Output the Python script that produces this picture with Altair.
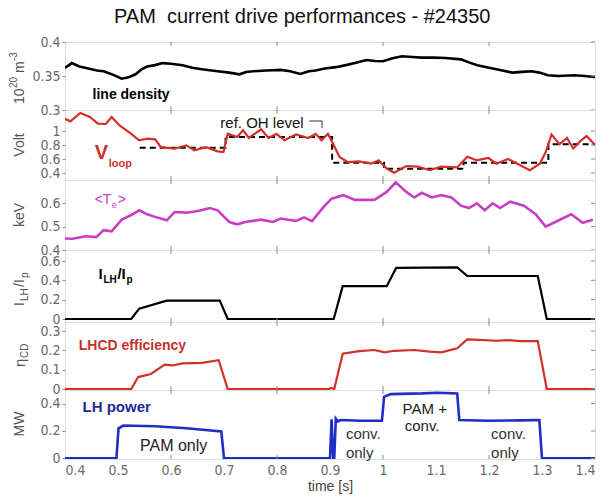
import altair as alt
import pandas as pd

TITLE = "PAM\u00a0 current drive performances - #24350"

# ---- line density (1e20 m^-3)
ne_t = [0.400, 0.413, 0.427, 0.444, 0.460, 0.473, 0.490, 0.507, 0.520, 0.533, 0.545, 0.555,
        0.570, 0.584, 0.600, 0.622, 0.640, 0.658, 0.688, 0.710, 0.729, 0.742, 0.755, 0.780,
        0.807, 0.825, 0.844, 0.860, 0.873, 0.890, 0.911, 0.930, 0.947, 0.969, 0.985, 1.000,
        1.018, 1.036, 1.055, 1.073, 1.095, 1.118, 1.147, 1.162, 1.178, 1.207, 1.225, 1.244,
        1.262, 1.280, 1.295, 1.311, 1.330, 1.362, 1.380, 1.400]
ne_v = [0.362, 0.369, 0.364, 0.361, 0.358, 0.357, 0.352, 0.346, 0.348, 0.3525, 0.360, 0.364,
        0.366, 0.369, 0.368, 0.3657, 0.362, 0.360, 0.357, 0.355, 0.3525, 0.356, 0.357, 0.358,
        0.359, 0.357, 0.353, 0.357, 0.358, 0.361, 0.363, 0.366, 0.369, 0.3735, 0.372, 0.3716,
        0.376, 0.379, 0.378, 0.377, 0.377, 0.3765, 0.3745, 0.370, 0.3657, 0.361, 0.358, 0.355,
        0.356, 0.357, 0.355, 0.351, 0.350, 0.351, 0.350, 0.3485]

# ---- loop voltage (V)
vl_t = [0.400, 0.410, 0.429, 0.447, 0.462, 0.477, 0.488, 0.503, 0.525, 0.540, 0.555, 0.570,
        0.581, 0.607, 0.629, 0.644, 0.666, 0.688, 0.699, 0.707, 0.725, 0.736, 0.747, 0.770,
        0.784, 0.799, 0.814, 0.836, 0.859, 0.873, 0.884, 0.896, 0.904, 0.918, 0.933, 0.955,
        0.977, 0.992, 1.007, 1.021, 1.044, 1.066, 1.088, 1.110, 1.140, 1.159, 1.177, 1.199,
        1.214, 1.236, 1.259, 1.277, 1.296, 1.307, 1.318, 1.333, 1.347, 1.359, 1.373, 1.384, 1.399]
vl_v = [1.176, 1.138, 1.257, 1.200, 1.105, 1.100, 1.200, 1.080, 0.960, 0.867, 0.890, 0.880,
        0.770, 0.747, 0.795, 0.724, 0.770, 0.710, 0.700, 0.960, 0.914, 1.010, 0.900, 1.024,
        0.900, 0.960, 0.867, 0.950, 0.900, 0.960, 0.867, 0.960, 0.847, 0.630, 0.557, 0.567,
        0.533, 0.580, 0.462, 0.405, 0.500, 0.490, 0.440, 0.490, 0.480, 0.633, 0.580, 0.614,
        0.533, 0.600, 0.510, 0.440, 0.533, 0.700, 0.950, 0.810, 0.900, 0.750, 0.860, 0.930, 0.810]

# ---- reference OH level (dashed)
oh_t = [0.541, 0.703, 0.703, 0.904, 0.904, 1.002, 1.002, 1.152, 1.152, 1.312, 1.312, 1.400]
oh_v = [0.760, 0.760, 0.914, 0.914, 0.547, 0.547, 0.460, 0.460, 0.547, 0.547, 0.810, 0.810]

# ---- <Te> (keV)
te_t = [0.400, 0.414, 0.440, 0.459, 0.473, 0.488, 0.507, 0.525, 0.540, 0.555, 0.570, 0.592,
        0.607, 0.629, 0.651, 0.673, 0.688, 0.710, 0.725, 0.740, 0.770, 0.792, 0.807, 0.821,
        0.836, 0.851, 0.866, 0.888, 0.903, 0.925, 0.947, 0.984, 1.007, 1.024, 1.044, 1.059,
        1.073, 1.092, 1.110, 1.129, 1.147, 1.162, 1.177, 1.192, 1.207, 1.221, 1.240, 1.266,
        1.288, 1.307, 1.325, 1.355, 1.377, 1.396]
te_v = [0.449, 0.448, 0.459, 0.455, 0.485, 0.480, 0.530, 0.550, 0.570, 0.553, 0.542, 0.527,
        0.563, 0.560, 0.567, 0.580, 0.570, 0.520, 0.510, 0.520, 0.530, 0.520, 0.535, 0.530,
        0.525, 0.540, 0.524, 0.585, 0.620, 0.635, 0.615, 0.615, 0.649, 0.690, 0.649, 0.625,
        0.645, 0.625, 0.635, 0.625, 0.590, 0.580, 0.600, 0.570, 0.600, 0.580, 0.607, 0.590,
        0.553, 0.500, 0.520, 0.553, 0.517, 0.530]

# ---- I_LH / I_p
ilh_t = [0.400, 0.525, 0.540, 0.592, 0.692, 0.707, 0.907, 0.924, 1.007, 1.025, 1.140, 1.159,
         1.292, 1.309, 1.400]
ilh_v = [0.000, 0.000, 0.107, 0.190, 0.190, 0.000, 0.000, 0.340, 0.340, 0.530, 0.535, 0.445,
         0.445, 0.000, 0.000]

# ---- LHCD efficiency
eta_t = [0.400, 0.525, 0.538, 0.562, 0.588, 0.603, 0.621, 0.658, 0.690, 0.707, 0.898, 0.902,
         0.908, 0.924, 0.955, 0.984, 1.003, 1.021, 1.059, 1.088, 1.110, 1.140, 1.159, 1.192,
         1.214, 1.236, 1.259, 1.292, 1.309, 1.400]
eta_v = [0.000, 0.000, 0.062, 0.078, 0.126, 0.122, 0.133, 0.135, 0.149, 0.000, 0.000, 0.006,
         0.000, 0.183, 0.196, 0.202, 0.190, 0.198, 0.202, 0.194, 0.190, 0.211, 0.257, 0.253,
         0.250, 0.253, 0.248, 0.248, 0.000, 0.000]

# ---- LH power (MW)
plh_t = [0.400, 0.497, 0.501, 0.510, 0.570, 0.629, 0.695, 0.700, 0.900, 0.903, 0.906, 0.908,
         0.911, 0.915, 0.920, 0.958, 0.998, 1.002, 1.015, 1.074, 1.103, 1.140, 1.144, 1.199,
         1.260, 1.295, 1.300, 1.400]
plh_v = [0.000, 0.000, 0.220, 0.240, 0.235, 0.220, 0.196, 0.000, 0.000, 0.286, 0.000, 0.000,
         0.290, 0.270, 0.280, 0.275, 0.275, 0.450, 0.470, 0.475, 0.480, 0.475, 0.280, 0.275,
         0.278, 0.280, 0.000, 0.000]

X_LABELS = [0.4, 0.5, 0.6, 0.7, 0.8, 0.9, 1.0, 1.1, 1.2, 1.3, 1.4]
INNER_TICKS = [0.6, 0.8, 1.0, 1.2]

W = 530
XDOM = [0.4, 1.4]
LABFONT = "Liberation Sans Narrow, DejaVu Sans Condensed, Liberation Sans, sans-serif"
FONT = "Liberation Sans, Arial, sans-serif"
GREY = "#6a6a6a"
FRAME = "#8a8a8a"


def series(t, v):
    return pd.DataFrame({"t": t, "v": v, "i": list(range(len(t)))})


def panel(h, ydom, yvals, lines, texts, ytitle, bottom=False):
    if bottom:
        xaxis = alt.Axis(values=X_LABELS, format="~g", title="time [s]", grid=False, domain=False,
                         ticks=False, labelPadding=4, labelFont=LABFONT, labelFontSize=14,
                         labelColor=GREY, titleFont=FONT, titleFontSize=14, titleColor="#444",
                         titleFontWeight="normal", titlePadding=2, labelOverlap=False)
    else:
        xaxis = None
    xenc = alt.X("t:Q", scale=alt.Scale(domain=XDOM, nice=False, zero=False), axis=xaxis)
    yenc = alt.Y("v:Q", scale=alt.Scale(domain=ydom, nice=False, zero=False),
                 axis=alt.Axis(values=yvals, format="~g", title=None, grid=False, domain=False,
                               tickSize=3, tickColor=FRAME, labelColor=GREY, labelFont=LABFONT,
                               labelFontSize=14, labelPadding=2, labelOverlap=False))
    layers = []
    for (t, v, color, width, dash) in lines:
        kw = dict(color=color, strokeWidth=width, clip=True)
        if dash:
            kw["strokeDash"] = dash
        layers.append(alt.Chart(series(t, v)).mark_line(**kw).encode(
            x=xenc, y=yenc, order=alt.Order("i:Q")))
    for tx in texts:
        df = pd.DataFrame({"t": [tx["t"]], "v": [tx["v"]], "label": [tx["text"]]})
        layers.append(alt.Chart(df).mark_text(
            align=tx.get("align", "left"), baseline="middle", font=FONT,
            fontSize=tx.get("size", 14), fontWeight=tx.get("weight", "normal"),
            color=tx.get("color", "black"), dx=tx.get("dx", 0), dy=tx.get("dy", 0)
        ).encode(x=xenc, y=yenc, text="label:N"))
    # rotated axis title pieces
    for part in ytitle:
        layers.append(alt.Chart(pd.DataFrame({"a": [0]})).mark_text(
            text=part["text"], angle=270, align=part.get("align", "left"), baseline="middle",
            font=FONT, fontSize=part.get("size", 14), color="#555",
            dx=part.get("dx", 0), dy=part.get("dy", 0)
        ).encode(x=alt.value(-45), y=alt.value(part["y"])))
    # inner ticks (top, bottom, right)
    tdf = pd.DataFrame({"t": INNER_TICKS})
    layers.append(alt.Chart(tdf).mark_rule(color=FRAME, strokeWidth=1).encode(
        x=xenc, y=alt.value(0), y2=alt.value(4)))
    layers.append(alt.Chart(tdf).mark_rule(color=FRAME, strokeWidth=1).encode(
        x=xenc, y=alt.value(h - 4), y2=alt.value(h)))
    rdf = pd.DataFrame({"v": yvals})
    layers.append(alt.Chart(rdf).mark_rule(color=FRAME, strokeWidth=1).encode(
        y=yenc, x=alt.value(W - 4), x2=alt.value(W)))
    return alt.layer(*layers).properties(width=W, height=h)


RED = "#d3302b"
MAG = "#c63fc6"
BLUE = "#1f2ec4"

p1 = panel(68, [0.3, 0.4], [0.3, 0.35, 0.4],
           [(ne_t, ne_v, "black", 2.6, None)],
           [dict(t=0.452, v=0.322, text="line density", weight="bold", size=14)],
           [dict(text="10", y=62, size=14), dict(text="20", y=62, dx=16, dy=-6, size=10),
            dict(text="m", y=62, dx=31, size=14), dict(text="-3", y=62, dx=43, dy=-6, size=10)])

p2_texts = [dict(t=0.456, v=0.68, text="V", weight="bold", size=20, color=RED),
            dict(t=0.456, v=0.68, text="loop", weight="bold", size=11, color=RED, dx=14, dy=11),
            dict(t=0.693, v=1.12, text="ref. OH level", size=15, color="#111")]
p2 = panel(70, [0.3, 1.3], [0.4, 0.6, 0.8, 1.0],
           [(oh_t, oh_v, "black", 2, [6, 4]),
            (vl_t, vl_v, RED, 2.2, None),
            ([0.861, 0.885, 0.885], [1.143, 1.143, 1.04], "#333", 1, None)],
           p2_texts,
           [dict(text="Volt", y=35, align="center", size=14)])

p3 = panel(70, [0.4, 0.7], [0.4, 0.5, 0.6],
           [(te_t, te_v, MAG, 2.6, None)],
           [dict(t=0.456, v=0.615, text="<T", size=14, color=MAG),
            dict(t=0.456, v=0.615, text="e", size=9, color=MAG, dx=17, dy=5),
            dict(t=0.456, v=0.615, text=">", size=14, color=MAG, dx=23)],
           [dict(text="keV", y=35, align="center", size=14)])

p4 = panel(72, [-0.031, 0.714], [0, 0.2, 0.4, 0.6],
           [(ilh_t, ilh_v, "black", 2.2, None)],
           [dict(t=0.463, v=0.466, text="I", weight="bold", size=15),
            dict(t=0.463, v=0.466, text="LH", weight="bold", size=10, dx=5, dy=6),
            dict(t=0.463, v=0.466, text="/I", weight="bold", size=15, dx=19),
            dict(t=0.463, v=0.466, text="p", weight="bold", size=10, dx=28, dy=6)],
           [dict(text="I", y=56, size=14), dict(text="LH", y=56, dx=5, dy=5, size=10),
            dict(text="/I", y=56, dx=19, size=14), dict(text="p", y=56, dx=28, dy=5, size=10)])

p5 = panel(68, [-0.005, 0.347], [0, 0.1, 0.2, 0.3],
           [(eta_t, eta_v, RED, 2.2, None)],
           [dict(t=0.426, v=0.223, text="LHCD efficiency", weight="bold", size=14, color="#c8302c")],
           [dict(text="\u03b7", y=45, size=15), dict(text="CD", y=45, dx=9, dy=5, size=10)])

p6 = panel(69, [-0.005, 0.5], [0, 0.2, 0.4],
           [(plh_t, plh_v, BLUE, 2.6, None)],
           [dict(t=0.433, v=0.378, text="LH power", weight="bold", size=15, color="#1f2a9a"),
            dict(t=0.605, v=0.087, text="PAM only", size=16, color="#222", align="center"),
            dict(t=0.930, v=0.175, text="conv.", size=15, color="#333"),
            dict(t=0.930, v=0.036, text="only", size=15, color="#333"),
            dict(t=1.037, v=0.364, text="PAM +", size=15, color="#222"),
            dict(t=1.041, v=0.233, text="conv.", size=15, color="#222"),
            dict(t=1.204, v=0.175, text="conv.", size=15, color="#333"),
            dict(t=1.204, v=0.036, text="only", size=15, color="#333")],
           [dict(text="MW", y=34, align="center", size=14)],
           bottom=True)

chart = alt.vconcat(p1, p2, p3, p4, p5, p6, spacing=0, bounds="flush").properties(
    title=alt.TitleParams(TITLE, font=FONT, fontSize=20, fontWeight="normal", color="#111",
                          anchor="middle", offset=8),
    padding={"left": 8, "top": 6, "right": 5, "bottom": 5},
).configure_view(stroke=FRAME, strokeWidth=1).configure(background="white")

chart.save("out.html", embed_options={"renderer": "svg", "actions": False})
